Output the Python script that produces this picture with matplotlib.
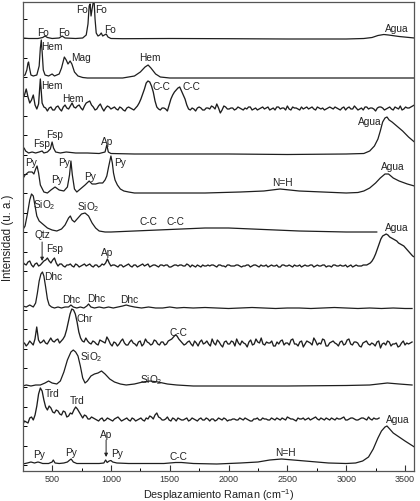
import numpy as np
import matplotlib
matplotlib.use('Agg')
import matplotlib.pyplot as plt

plt.rcParams['font.family'] = ['Liberation Sans', 'DejaVu Sans']
plt.rcParams['mathtext.fontset'] = 'custom'
plt.rcParams['mathtext.rm'] = 'Liberation Sans'
plt.rcParams['mathtext.it'] = 'Liberation Sans'
plt.rcParams['mathtext.default'] = 'regular'

# ---------------- data (Raman shift in cm-1, intensity in arbitrary units) ----------------
# 1: forsterite
s1_x = [250, 300, 380, 420, 440, 460, 500, 560, 585, 610, 700, 760, 790, 805, 815, 823, 831,
        840, 850, 857, 865, 875, 890, 905, 918, 930, 945, 960, 975, 1000, 1100, 1500, 2000,
        2500, 3000, 3150, 3220, 3270, 3320, 3360, 3450, 3580]
s1_y = [1, 0.5, 0.5, 1.5, 3, 1.5, 0.5, 1, 3, 1, 0.5, 1, 4, 15, 33, 35, 23, 30, 37, 38, 20, 6,
        3, 4, 6, 3, 4, 5, 2, 0.5, 0.3, 0.5, 0.3, 0, 0, 0.5, 1.5, 3.5, 4.5, 4, 2.5, 1]
# 2: hematite / magnetite
s2_x = [250, 270, 285, 295, 300, 308, 320, 340, 370, 390, 400, 408, 416, 425, 440, 470, 500,
        520, 560, 580, 604, 620, 635, 653, 668, 690, 720, 760, 800, 1100, 1200, 1250, 1290,
        1316, 1340, 1380, 1420, 1500, 3580]
s2_y = [2, 3, 8, 15, 16, 10, 3, 2, 3, 12, 30, 38, 25, 8, 3, 2, 4, 2, 4, 10, 21, 18, 14, 17,
        14, 6, 2, 0.5, 0, 0, 2, 6, 11, 13, 10, 4, 1, 0, 0]
# 3: hematite + carbon (noisy; evenly sampled values and the values midway between them)
s3_y = [10, 20, 6, 14, 0, 30, 2, -2, 2, -1,
        3, -2, 4, 0, 6, 1, 4, -1, 6, 8,
        2, 0, 5, -2, 3, 0, 2, -1, 1, -2,
        2, 0, 1, 6, 15, 26, 27, 17, 2, -1,
        1, -2, 10, 17, 21, 18, 10, 0, 1, -2,
        2, -1, 1, 0, 2, 5, -4, 3, 0, 1,
        -1, 2, 0, 1, 2, -1, 1, 0, 2, 1,
        -1, 1, 2, 0, 1, 3, -1, 1, 0, 2,
        1, 0, 2, -1, 1, 1, 0, 2, 0, 1,
        -1, 2, 1, 0, 3, -1, 1, 2, 0, 1,
        -2, 2, 1, 0, 2, -1, 1, 3, 0, 1,
        2, 4]
s3_mid = [14, 12, 9, 4, 5, 6, 1, 1, -1, 2,
          0, 2, 1, 3, 2, 3, 1, 3, 7, 4,
          -1, 3, 1, 1, 2, 1, 0, 2, -1, 1,
          1, -1, 3, 10, 20, 28, 23, 8, 0, 1,
          0, 4, 14, 19, 22, 14, 4, -1, 0, 1,
          1, -1, 1, 3, 0, 1, -1, 2, 0, 1,
          0, 1, -1, 0, 2, 0, -1, 1, 0, 2,
          0, -1, 2, 1, -1, 0, 2, 1, -1, 0,
          2, 1, 0, 2, 0, -1, 1, 1, 2, 0,
          1, -1, 2, 0, 1, 0, -1, 2, 1, 0,
          1, 2, -1, 1, 0, 2, 0, -1, 2, 1,
          3]
s3_range = (250, 3580)
# 4: feldspar / apatite / water
s4_x = [250, 262, 275, 300, 330, 360, 390, 415, 430, 460, 485, 500, 512, 530, 570, 620, 700,
        800, 900, 950, 965, 978, 1000, 1200, 1500, 2000, 2500, 3000, 3150, 3200, 3240, 3270,
        3290, 3310, 3330, 3347, 3365, 3390, 3430, 3480, 3530, 3580]
s4_y = [3, 6, 3, 1, 2, 1, 2, 3, 1, 2, 5, 12, 6, 2, 1, 2, 1, 1, 0.5, 2, 9, 2, 0.5, 0, 0, 0,
        -0.5, 0, 0.5, 3, 8, 15, 23, 32, 36, 37, 34, 32, 28, 23, 17, 12]
# 5: pyrite
s5_x = [250, 270, 300, 330, 345, 360, 372, 385, 400, 430, 460, 490, 525, 560, 600, 630, 648,
        660, 672, 690, 710, 740, 780, 815, 840, 870, 900, 930, 950, 965, 980, 1000, 1012,
        1022, 1035, 1055, 1080, 1110, 1150, 1200, 1500, 1800, 2100, 2300, 2438, 2600, 2800,
        3000, 3100, 3150, 3200, 3250, 3290, 3330, 3360, 3400, 3450, 3520, 3580]
s5_y = [14, 18, 21, 21, 19, 24, 27, 20, 8, 1, 0, 3, 6, 3, 2, 6, 18, 32, 18, 4, 1, 4, 8, 12,
        9, 9, 10, 10, 13, 17, 26, 37, 30, 20, 13, 8, 4, 2, 1, 0, 0, 0, 1, 2, 4, 2, 1, 0, 0.5,
        2, 5, 10, 15, 19, 19, 15, 12, 9, 7]
# 6: silica + carbon
s6_x = [250, 270, 290, 310, 325, 340, 355, 370, 390, 420, 460, 500, 540, 580, 610, 640, 655,
        670, 690, 720, 750, 780, 810, 840, 870, 900, 950, 1000, 1200, 1400, 1600, 1800, 2000,
        2200, 2400, 2600, 2800, 3000, 3260]
s6_y = [2, 6, 18, 32, 38, 36, 26, 16, 11, 8, 4, 2, 1, 3, 7, 14, 16, 12, 10, 14, 18, 19, 16,
        9, 4, 1, 0, 0, 1, 2, 3, 4, 4, 3, 2, 1, 0.5, 0, 0]
# 7: quartz / feldspar / apatite / water (noisy)
s7_y = [4, 1, 5, -1, 3, 1, 5, 8, 3, 8,
        0, 2, -1, 1, 0, 2, -1, 1, 0, 2,
        -1, 1, 0, 1, 7, 0, 1, -1, 1, 0,
        2, -1, 1, 0, 2, 1, -1, 1, 0, 1,
        0, 1, -1, 1, 0, 1, 0, 1, 1, -1,
        0, 1, 0, 0, 1, -1, 1, 0, 1, 0,
        0, 1, -1, 0, 1, 0, 1, -1, 0, 1,
        0, 0, 1, -1, 1, 0, 0, 1, 0, -1,
        1, 0, 1, 0, 0, 1, -1, 0, 1, 0,
        1, 0, -1, 1, 0, 0, 0, 1, 2, 5,
        12, 22, 30, 32, 29, 27, 25, 22, 20, 16,
        12, 9]
s7_mid = [2, 4, 1, 2, 0, 3, 6, 5, 6, 3,
          2, 0, 1, 2, -1, 1, 0, 2, 1, 0,
          1, -1, 2, 3, 3, 1, 0, 1, -1, 1,
          0, 1, -1, 1, 0, 2, 0, 1, -1, 1,
          1, -1, 0, 1, 1, 0, 2, -1, 0, 1,
          -1, 0, 1, 1, 0, 1, 0, -1, 1, 0,
          1, 0, 0, 1, -1, 1, 0, 1, 0, -1,
          1, 0, -1, 1, 0, 1, -1, 0, 1, 0,
          0, 1, -1, 1, 0, 1, 0, -1, 1, 0,
          0, 1, 0, -1, 1, 0, 1, 1, 3, 8,
          17, 27, 31, 31, 28, 26, 23, 21, 18, 14,
          10]
s7_range = (250, 3580)
# 8: dahllite-carbonate
s8_x = [250, 280, 310, 340, 360, 375, 390, 405, 418, 430, 445, 460, 475, 495, 520, 550, 580,
        610, 640, 660, 680, 710, 740, 770, 795, 810, 830, 860, 900, 940, 980, 1020, 1060,
        1100, 1130, 1160, 1200, 1260, 1320, 1380, 1440, 1500, 1560, 1620, 1700, 1800, 1900,
        2000, 2100, 2200, 2300, 2400, 2500, 2600, 2700, 2800, 2900, 3000, 3100, 3200, 3300,
        3400, 3500, 3560]
s8_y = [3, 2, 4, 2, 6, 16, 28, 35, 37, 33, 22, 10, 4, 2, 1, 2, 1, 2, 2, 4, 2, 1, 2, 1, 3, 5,
        2, 1, 2, 1, 2, 1, 2, 3, 4, 3, 2, 1, 2, 1, 1, 2, 1, 1.5, 1, 1.5, 1, 0.5, 1, 1.5, 1,
        0.5, 1, 1, 0.5, 1, 1.5, 1, 0.5, 1, 0.5, 1, 0.5, 0.5]
# 9: chromite (noisy)
s9_y = [0, -2, 3, -1, 17, 1, 4, 0, 6, 2,
        5, 3, 8, 22, 35, 30, 12, 3, 6, 1,
        3, 0, 4, 2, 7, 0, 2, -2, 3, 1,
        -1, 4, 0, 2, -2, 5, 1, 0, 3, -1,
        2, 0, 4, 7, 8, 3, -1, 2, 0, 3,
        -2, 4, 1, 0, 5, -1, 2, -3, 3, 0,
        2, 5, -1, 1, -3, 4, 0, 2, 6, -1,
        1, 3, -2, 0, 4, 1, -1, 5, 0, 2,
        -3, 3, 1, 6, -1, 0, 4, -2, 2, 1,
        -2, 3, 0, 5, -1, 2, -2, 1, 3, -1,
        0, 2, -4, 1, 3, -2, 0, -3, 1, -1,
        0, 2]
s9_mid = [1, 0, 1, 5, 4, 2, 1, 3, 3, 4,
          1, 5, 14, 30, 34, 22, 6, 2, 3, 0,
          2, -1, 3, 1, 4, -2, 1, 0, 5, -1,
          2, 1, -2, 3, 0, 2, -1, 4, 0, 2,
          -1, 3, 5, 9, 5, 1, 0, 3, -2, 1,
          2, 0, 3, -2, 1, 4, -1, 2, 0, 3,
          -2, 1, 3, 0, 2, -1, 5, 1, 0, 2,
          1, -2, 2, 3, -1, 1, 4, 0, -2, 3,
          0, 2, -1, 3, 1, 5, -2, 1, 3, 0,
          2, -1, 4, 0, 2, 1, -3, 2, 0, 1,
          -2, 3, 0, -1, 2, 0, 1, -2, 3, 1,
          1]
s9_range = (250, 3560)
# 10: silica
s10_x = [250, 280, 320, 360, 400, 440, 470, 500, 540, 570, 600, 630, 660, 680, 700, 720, 740,
         760, 780, 800, 830, 860, 890, 920, 950, 990, 1030, 1080, 1130, 1200, 1270, 1333,
         1400, 1480, 1560, 1700, 2000, 2500, 3000, 3200, 3350, 3450, 3560]
s10_y = [0, 1, 0, 1, 1, 3, 5, 3, 2, 5, 14, 26, 34, 36, 34, 30, 20, 8, 3, 5, 10, 12, 13, 15,
         12, 7, 4, 2, 1, 2, 4, 5, 4, 2, 1, 0, 0, 0, 0.5, 1, 3, 2, 1]
# 11: tridymite (noisy)
s11_y = [-5, -2, 2, 0, 14, 32, 20, 10, 12, 7,
         9, 5, 8, 4, 6, 13, 8, 2, 4, 1,
         2, 0, 1, -1, 2, 0, 1, 3, -1, 1,
         0, 2, -1, 1, 0, 2, 4, 1, 7, 2,
         0, 3, -1, 1, 2, 0, 1, -1, 2, 0,
         1, 0, 2, -1, 1, 0, 1, 2, -1, 0,
         1, 0, 1, 2, 0, -1, 1, 0, 2, 1,
         0, 1, 2, 0, 1, 3, 1, 0, 2, 1,
         0, 2, 1, 3, 0, 1, 2, 0, 1, 2,
         1, 3, 0, 2, 1, 0, 2, 1, 3, 0,
         1, 2]
s11_mid = [-1, -3, 3, 5, 26, 29, 13, 14, 8, 10,
           6, 9, 3, 7, 10, 11, 5, 5, 1, 3,
           1, -1, 2, 0, 1, -1, 2, 1, 0, 2,
           -1, 1, 0, 2, -1, 1, 3, 5, 3, 0,
           1, 0, 2, -1, 1, 0, 2, 0, 1, -1,
           2, 0, 1, 1, -1, 2, 0, 1, 0, 1,
           0, 2, 0, 1, -1, 1, 2, 0, 1, 0,
           2, 0, 1, 2, 0, 2, 1, -1, 1, 2,
           1, 0, 2, 1, 2, 0, 1, 2, 0, 1,
           2, 0, 1, 2, 0, 1, 2, 0, 1, 2,
           1]
s11_range = (250, 3280)
# 12: pyrite / apatite / carbon / water
s12_x = [250, 290, 320, 350, 380, 395, 420, 470, 500, 510, 525, 560, 600, 630, 650, 662, 680,
         710, 800, 900, 940, 955, 968, 985, 1000, 1015, 1050, 1150, 1300, 1450, 1550, 1600,
         1700, 1900, 2100, 2250, 2350, 2450, 2550, 2700, 2850, 3000, 3080, 3140, 3190, 3230,
         3270, 3300, 3330, 3347, 3370, 3400, 3450, 3500, 3540, 3580]
s12_y = [0, 1, 2, 1, 2, 1.5, 0.5, 0.5, 2, 4, 1, 0.5, 1, 2, 4, 5, 2, 0.5, 0.5, 0.5, 1, 4, 1.5,
         3, 3.5, 2, 1, 0.5, 0.5, 0.5, 1.5, 1.5, 0.5, 0, 1, 2, 4, 5, 4, 2.5, 1, 0.5, 1, 3, 7,
         15, 26, 33, 37, 38, 35, 31, 27, 23, 20, 17]

offsets = [432, 393, 362, 317, 278, 239, 205, 162, 127, 85, 51, 7]

# annotation labels: (text, x, y)
labels = [
    ('Fo', 424, 439), ('Fo', 602, 439), ('Fo', 755, 462), ('Fo', 917, 462), ('Fo', 993, 442),
    ('Agua', 3432, 443),
    ('Hem', 500, 425), ('Mag', 747, 414), ('Hem', 1333, 414),
    ('Hem', 500, 386), ('Hem', 679, 373), ('C-C', 1427, 385), ('C-C', 1682, 385),
    ('Fsp', 407, 328), ('Fsp', 517, 337), ('Ap', 967, 330), ('Agua', 3203, 350),
    ('Py', 322, 309), ('Py', 543, 292), ('Py', 602, 309), ('Py', 823, 295), ('Py', 1078, 309),
    ('N=H', 2455, 289), ('Agua', 3399, 305),
    ('SiO$_2$', 430, 267), ('SiO$_2$', 810, 265), ('C-C', 1316, 250), ('C-C', 1546, 250),
    ('Agua', 3432, 244),
    ('Qtz', 415, 237), ('Fsp', 525, 223), ('Ap', 967, 219),
    ('Dhc', 508, 195), ('Dhc', 661, 172), ('Dhc', 874, 173), ('Dhc', 1154, 172),
    ('Chr', 780, 153), ('C-C', 1571, 139),
    ('SiO$_2$', 831, 115), ('SiO$_2$', 1342, 92),
    ('Trd', 500, 78), ('Trd', 713, 71), ('Agua', 3441, 52),
    ('Ap', 959, 37), ('Py', 390, 17), ('Py', 662, 19), ('Py', 1053, 18), ('C-C', 1571, 15),
    ('N=H', 2481, 19),
]
arrows = [((415, 229), (415, 210)), ((959, 31), (959, 14))]

xticks = [500, 1000, 1500, 2000, 2500, 3000, 3500]

# ---------------- figure ----------------
fig = plt.figure(figsize=(4.2, 5.02), dpi=100)
ax = fig.add_axes([22.7 / 420, 30 / 502, (414.4 - 22.7) / 420, 469 / 502])

lc = '#1e1e1e'
smooth = [(s1_x, s1_y), (s2_x, s2_y), None, (s4_x, s4_y), (s5_x, s5_y), (s6_x, s6_y),
          None, (s8_x, s8_y), None, (s10_x, s10_y), None, (s12_x, s12_y)]
noisy = {2: (s3_y, s3_mid, s3_range), 6: (s7_y, s7_mid, s7_range),
         8: (s9_y, s9_mid, s9_range), 10: (s11_y, s11_mid, s11_range)}

for i, off in enumerate(offsets):
    if smooth[i] is not None:
        x, y = smooth[i]
        ax.plot(x, off + np.asarray(y, float), color=lc, lw=0.9)
    else:
        y, ym, (a, b) = noisy[i]
        xg = np.linspace(a, b, len(y))
        xm = (xg[:-1] + xg[1:]) / 2
        x = np.empty(len(y) + len(ym))
        yy = np.empty(len(y) + len(ym))
        x[0::2], x[1::2] = xg, xm
        yy[0::2], yy[1::2] = y, ym
        ax.plot(x, off + yy, color=lc, lw=0.95)

for t, x, y in labels:
    ax.text(x, y, t, ha='center', va='center', fontsize=7.3, color='#222222')

for (x0, y0), (x1, y1) in arrows:
    ax.annotate('', xy=(x1, y1), xytext=(x0, y0),
                arrowprops=dict(arrowstyle='-|>', lw=0.7, color='#222222', mutation_scale=5,
                                shrinkA=0, shrinkB=0))

ax.set_xlim(250, 3580)
ax.set_ylim(0, 469)
ax.set_xticks(xticks)
ax.set_xticks(np.arange(250, 3580, 250), minor=True)
ax.set_yticks(np.arange(6, 469, 19.4))
ax.set_yticklabels([])
ax.tick_params(axis='x', which='major', direction='in', length=4, width=0.8, labelsize=6.5,
               pad=2.5, colors='#333333')
ax.tick_params(axis='x', which='minor', direction='in', length=2, width=0.7)
ax.tick_params(axis='y', which='major', direction='in', length=3, width=0.7)
for s in ax.spines.values():
    s.set_linewidth(0.9)
    s.set_color('#555555')

ax.set_xlabel('Desplazamiento Raman (cm$^{-1}$)', fontsize=7.8, labelpad=2, color='#222222')
ax.set_ylabel('Intensidad (u. a.)', fontsize=8.3, labelpad=3, color='#222222')

fig.savefig('out.png', dpi=100)
